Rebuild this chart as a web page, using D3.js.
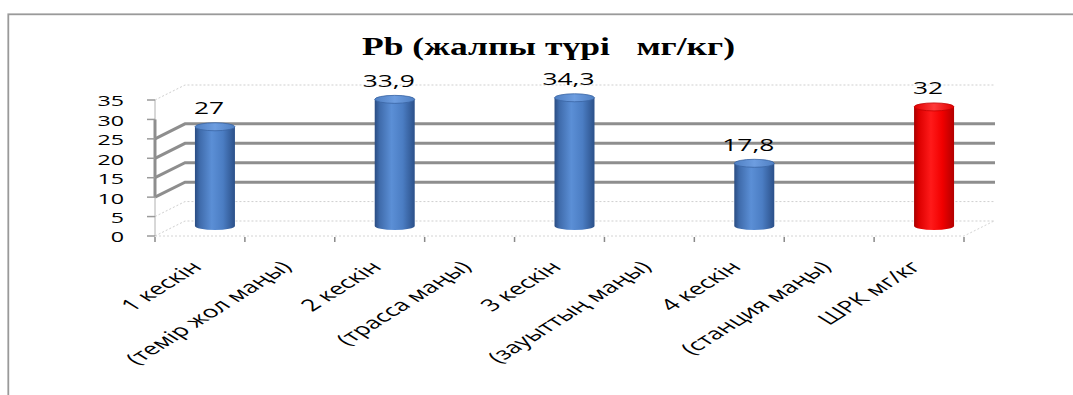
<!DOCTYPE html>
<html>
<head>
<meta charset="utf-8">
<script src="https://cdn.jsdelivr.net/npm/d3@7"></script>
<style>
  html, body { margin: 0; padding: 0; background: #fff; overflow: hidden; }
  text { white-space: pre; }
</style>
</head>
<body>
<svg id="chart" width="1073" height="395"></svg>
<script>
// Lead (Pb) content along the sampling transects, mg/kg, against the permitted limit
const categories = [
  "1 кескін", "(темір жол маңы)",
  "2 кескін", "(трасса маңы)",
  "3 кескін", "(зауыттың маңы)",
  "4 кескін", "(станция маңы)",
  "ШРК мг/кг"
];
const values = [27, null, 33.9, null, 34.3, null, 17.8, null, 32];
const yTicks = [0, 5, 10, 15, 20, 25, 30, 35];
const chartTitle = "Pb (жалпы түрі   мг/кг)";
const limitCategory = "ШРК мг/кг";

const svg = d3.select("#chart");
const SX = 1.55;                 // horizontal stretch of all lettering
const DEPTH = { dx: 30, dy: -15 }; // offset from front plane to back wall

// front plane scales
const x = d3.scaleBand().domain(categories).range([155, 964]);
const y = d3.scaleLinear().domain([0, 35]).range([236, 100]);
// scale for the cylinders, standing half way into the depth
const yBar = d3.scaleLinear().domain([0, 35]).range([230, 91]);

const fmt = d3.formatLocale({ decimal: ",", thousands: " ", grouping: [3], currency: ["", ""] }).format("~f");

// outer frame
svg.append("rect")
  .attr("x", 8.3).attr("y", 14.3).attr("width", 1100).attr("height", 420)
  .attr("fill", "none").attr("stroke", "#9a9a9a").attr("stroke-width", 1.8);

// title
svg.append("text")
  .attr("x", 548.5).attr("y", 55)
  .attr("text-anchor", "middle")
  .attr("font-family", "'Liberation Serif', 'Times New Roman', serif")
  .attr("font-weight", "bold")
  .attr("font-size", 25)
  .attr("textLength", 373)
  .attr("lengthAdjust", "spacingAndGlyphs")
  .text(chartTitle);

// gridlines: side wall diagonal + back wall line
const heavy = v => v >= 10 && v <= 25;
const gridVals = yTicks.filter(v => v !== 30);
const right = x.range()[1] + DEPTH.dx + 1;
svg.append("g").selectAll("path")
  .data(gridVals)
  .join("path")
  .attr("d", v => `M${x.range()[0]},${y(v)} L${x.range()[0] + DEPTH.dx},${y(v) + DEPTH.dy} L${right},${y(v) + DEPTH.dy}`)
  .attr("fill", "none")
  .attr("stroke", v => heavy(v) ? "#8e8e8e" : "#cfcfcf")
  .attr("stroke-width", v => heavy(v) ? 3 : 1)
  .attr("stroke-dasharray", v => heavy(v) ? null : "2,2");

// floor: front edge and right edge
const x0 = x.range()[0], x1 = x.range()[1];
svg.append("path")
  .attr("d", `M${x0},${y(0)} L${x1},${y(0)} L${x1 + DEPTH.dx},${y(0) + DEPTH.dy}`)
  .attr("fill", "none").attr("stroke", "#d4d4d4").attr("stroke-width", 1)
  .attr("stroke-dasharray", "2,2");

// vertical axis on the front plane
svg.append("line")
  .attr("x1", x0).attr("x2", x0).attr("y1", y(0)).attr("y2", y(35))
  .attr("stroke", "#b0b0b0").attr("stroke-width", 1);
svg.append("line")
  .attr("x1", x0).attr("x2", x0).attr("y1", y(30)).attr("y2", y(10))
  .attr("stroke", "#8e8e8e").attr("stroke-width", 3);
svg.append("g").selectAll("line")
  .data(yTicks)
  .join("line")
  .attr("x1", x0 - 8).attr("x2", x0).attr("y1", d => y(d)).attr("y2", d => y(d))
  .attr("stroke", "#9a9a9a").attr("stroke-width", 1.5);
svg.append("g").selectAll("text")
  .data(yTicks)
  .join("text")
  .attr("transform", d => `translate(124,${y(d) + 1}) scale(${SX},1)`)
  .attr("dy", "0.36em")
  .attr("text-anchor", "end")
  .attr("font-family", "'Open Sans', sans-serif")
  .attr("font-size", 15)
  .attr("fill", "#000")
  .text(d => d);

// category ticks along the floor front edge
const bounds = categories.map(c => x(c)).concat([x1]);
svg.append("g").selectAll("line")
  .data(bounds)
  .join("line")
  .attr("x1", d => d).attr("x2", d => d).attr("y1", y(0) + 1).attr("y2", y(0) + 6)
  .attr("stroke", "#8a8a8a").attr("stroke-width", 1.5);

// category labels, rotated
svg.append("g").selectAll("text")
  .data(categories)
  .join("text")
  .attr("transform", c => `translate(${x(c) + x.bandwidth() / 2 + 3},268) scale(1.6,1) rotate(-45)`)
  .attr("text-anchor", "end")
  .attr("font-family", "'Open Sans', sans-serif")
  .attr("font-size", 16.5)
  .attr("fill", "#000")
  .text(c => c);

// cylinder shading
const defs = svg.append("defs");
function grad(id, stops) {
  const g = defs.append("linearGradient").attr("id", id)
    .attr("x1", "0%").attr("x2", "100%").attr("y1", "0%").attr("y2", "0%");
  stops.forEach(([o, c]) => g.append("stop").attr("offset", o).attr("stop-color", c));
}
grad("blueBody", [["0%", "#2a4c82"], ["12%", "#3f6bab"], ["42%", "#5b8fd6"], ["70%", "#4b7dc3"], ["100%", "#2b5089"]]);
grad("blueTop", [["0%", "#4f7fc2"], ["50%", "#6d9de0"], ["100%", "#4f7fc2"]]);
grad("redBody", [["0%", "#a80000"], ["12%", "#dc0000"], ["42%", "#ff1a1a"], ["70%", "#f20000"], ["100%", "#b30000"]]);
grad("redTop", [["0%", "#e00000"], ["50%", "#ff3a3a"], ["100%", "#e00000"]]);

const barW = 40, ry = 4;
const bars = categories.map((c, i) => ({ c, v: values[i] })).filter(d => d.v != null);
const cxOf = d => x(d.c) + x.bandwidth() / 2 + DEPTH.dx / 2;
const isLimit = d => d.c === limitCategory;

const gBars = svg.append("g");
gBars.selectAll("path.body")
  .data(bars)
  .join("path")
  .attr("class", "body")
  .attr("d", d => {
    const cx = cxOf(d), l = cx - barW / 2, r = cx + barW / 2;
    const top = yBar(d.v) + ry, base = yBar(0) - ry;
    return `M${l},${top} L${l},${base} A${barW / 2},${ry} 0 0 0 ${r},${base} L${r},${top} Z`;
  })
  .attr("fill", d => isLimit(d) ? "url(#redBody)" : "url(#blueBody)");
gBars.selectAll("ellipse")
  .data(bars)
  .join("ellipse")
  .attr("cx", cxOf)
  .attr("cy", d => yBar(d.v) + ry)
  .attr("rx", barW / 2)
  .attr("ry", ry)
  .attr("fill", d => isLimit(d) ? "url(#redTop)" : "url(#blueTop)")
  .attr("stroke", d => isLimit(d) ? "#c00000" : "#3a64a3")
  .attr("stroke-width", 0.8);

// value labels
svg.append("g").selectAll("text")
  .data(bars)
  .join("text")
  .attr("transform", d => `translate(${cxOf(d) - 6},${yBar(d.v) - 8.5}) scale(${SX},1)`)
  .attr("text-anchor", "middle")
  .attr("font-family", "'Open Sans', sans-serif")
  .attr("font-size", 17)
  .attr("fill", "#000")
  .text(d => fmt(d.v));
</script>
</body>
</html>
